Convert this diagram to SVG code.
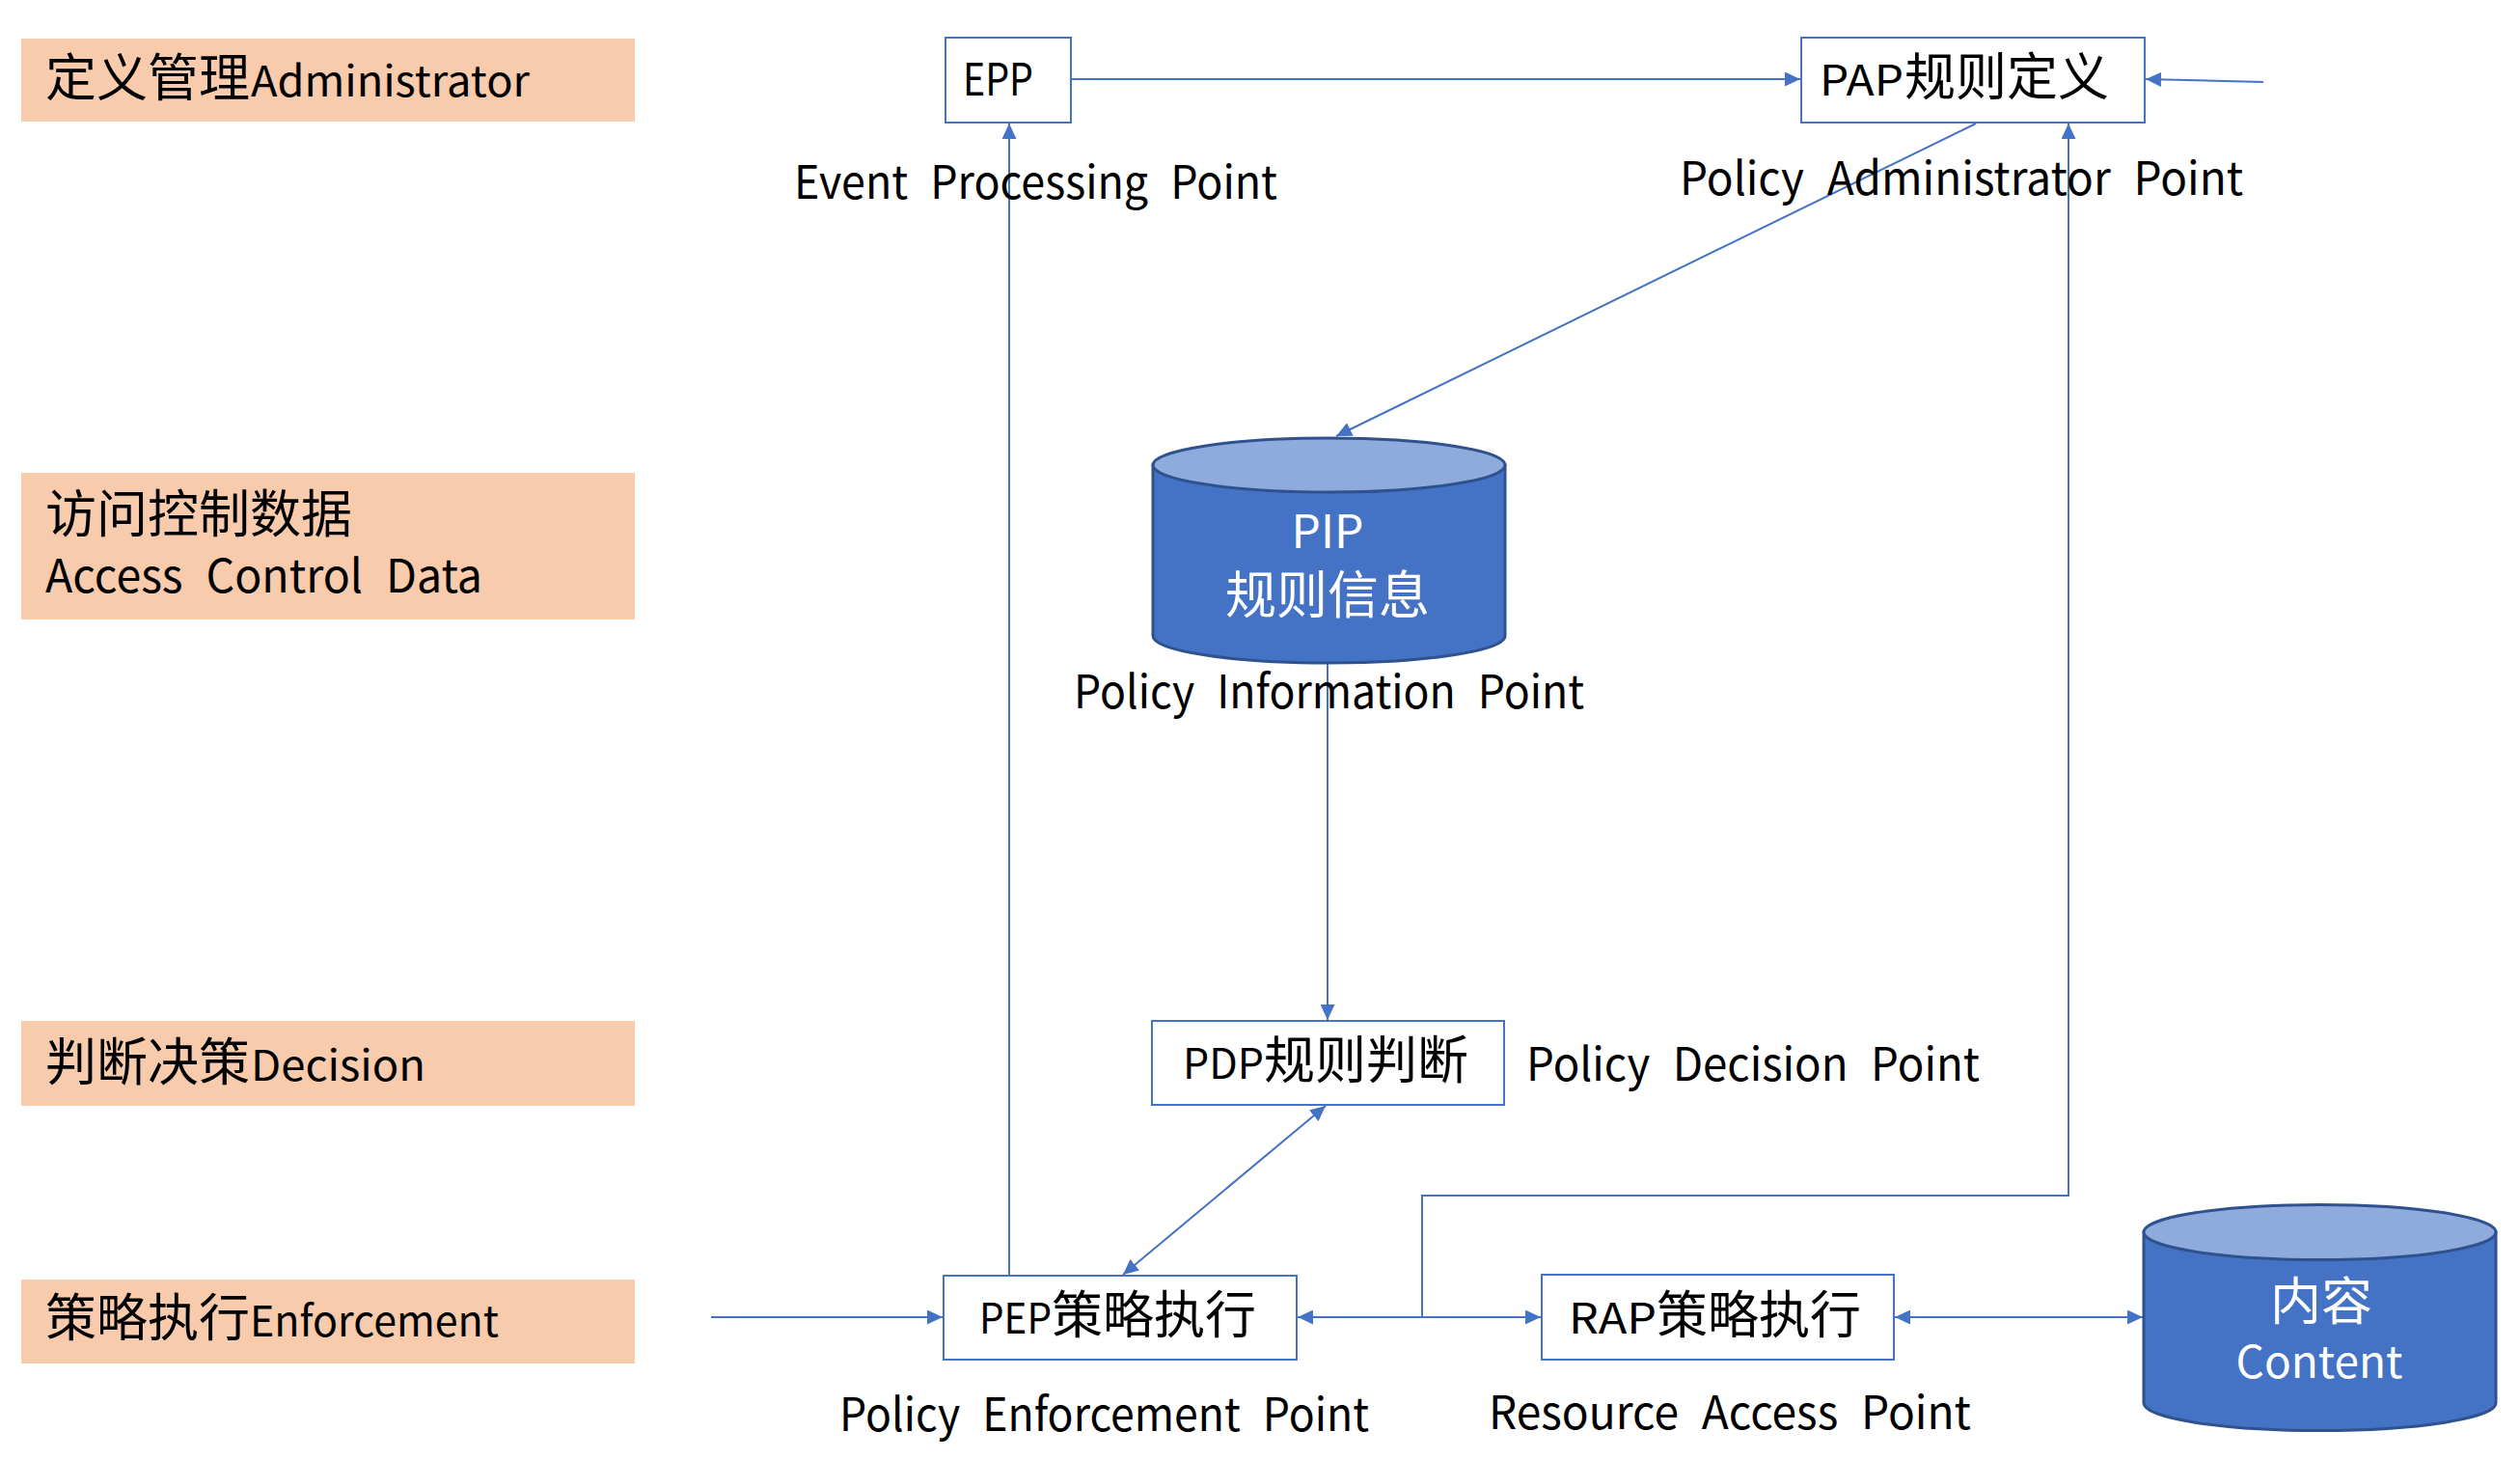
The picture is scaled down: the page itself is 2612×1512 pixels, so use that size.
<svg xmlns="http://www.w3.org/2000/svg" width="2612" height="1512" viewBox="0 0 2612 1512">
<defs>
<style>
.lane{fill:#F8CBAD;}
.box{fill:#FFFFFF;stroke:#4472C4;stroke-width:2;}
.cylb{fill:#4472C4;stroke:#2F528F;stroke-width:3;}
.cylt{fill:#8FAADC;stroke:#2F528F;stroke-width:3;}
.t{font-family:"Noto Sans CJK SC","Noto Sans",sans-serif;fill:#000000;}
.w{font-family:"Noto Sans CJK SC","Noto Sans",sans-serif;fill:#FFFFFF;}
.lat{font-size:44px;}
.cjk{font-size:53px;}
.sub{font-size:48px;word-spacing:14px;}
.ln{fill:none;stroke:#4472C4;stroke-width:2;}
</style>
<marker id="ah" markerUnits="userSpaceOnUse" markerWidth="16" markerHeight="15" refX="16" refY="7.5" orient="auto-start-reverse" viewBox="0 0 16 15">
<path d="M0,0 L16,7.5 L0,15 z" fill="#4472C4"/>
</marker>
</defs>
<rect width="2612" height="1512" fill="#FFFFFF"/>

<g id="lane-admin">
<rect class="lane" x="22" y="40" width="636" height="86"/>
<text class="t" y="100"><tspan class="cjk" x="47">定义管理</tspan><tspan class="lat" x="260" textLength="289" lengthAdjust="spacingAndGlyphs">Administrator</tspan></text>
</g>
<g id="lane-data">
<rect class="lane" x="22" y="490" width="636" height="152"/>
<text class="t"><tspan class="cjk" x="47" y="552">访问控制数据</tspan><tspan class="sub" x="47" y="614" textLength="453" lengthAdjust="spacingAndGlyphs">Access Control Data</tspan></text>
</g>
<g id="lane-decision">
<rect class="lane" x="22" y="1058" width="636" height="88"/>
<text class="t" y="1120"><tspan class="cjk" x="47">判断决策</tspan><tspan class="lat" x="260" textLength="181" lengthAdjust="spacingAndGlyphs">Decision</tspan></text>
</g>
<g id="lane-enforcement">
<rect class="lane" x="22" y="1326" width="636" height="87"/>
<text class="t" y="1385"><tspan class="cjk" x="47">策略执行</tspan><tspan class="lat" x="259" textLength="258" lengthAdjust="spacingAndGlyphs">Enforcement</tspan></text>
</g>

<g id="connectors">
<line class="ln" x1="1110" y1="82" x2="1866" y2="82" marker-end="url(#ah)"/>
<line class="ln" x1="2346" y1="85" x2="2224" y2="82" marker-end="url(#ah)"/>
<line class="ln" x1="2048" y1="128" x2="1385" y2="452" marker-end="url(#ah)"/>
<line class="ln" x1="1376" y1="688" x2="1376" y2="1057" marker-end="url(#ah)"/>
<line class="ln" x1="1164" y1="1321" x2="1374" y2="1146" marker-start="url(#ah)" marker-end="url(#ah)"/>
<line class="ln" x1="1046" y1="1321" x2="1046" y2="128" marker-end="url(#ah)"/>
<line class="ln" x1="737" y1="1365" x2="977" y2="1365" marker-end="url(#ah)"/>
<line class="ln" x1="1345" y1="1365" x2="1597" y2="1365" marker-start="url(#ah)" marker-end="url(#ah)"/>
<polyline class="ln" points="1474,1365 1474,1239 2144,1239 2144,128" marker-end="url(#ah)"/>
<line class="ln" x1="1964" y1="1365" x2="2221" y2="1365" marker-start="url(#ah)" marker-end="url(#ah)"/>
</g>

<g id="epp">
<rect class="box" x="980" y="39" width="130" height="88"/>
<text class="t" x="998" y="99" font-size="46" textLength="73" lengthAdjust="spacingAndGlyphs">EPP</text>
<text class="t sub" x="823" y="206" textLength="501" lengthAdjust="spacingAndGlyphs">Event Processing Point</text>
</g>

<g id="pap">
<rect class="box" x="1867" y="39" width="356" height="88"/>
<text class="t" y="99"><tspan class="lat" x="1886" textLength="87" lengthAdjust="spacingAndGlyphs">PAP</tspan><tspan class="cjk" x="1974">规则定义</tspan></text>
<text class="t sub" x="1741" y="202" textLength="584" lengthAdjust="spacingAndGlyphs">Policy Administrator Point</text>
</g>

<g id="pip">
<path class="cylb" d="M1195,482 L1195,659 A182.5,28 0 0 0 1560,659 L1560,482 Z"/>
<ellipse class="cylt" cx="1377.5" cy="482" rx="182.5" ry="28"/>
<text class="w" text-anchor="middle"><tspan x="1376" y="568" font-size="48">PIP</tspan><tspan x="1376" y="636" font-size="53">规则信息</tspan></text>
<text class="t sub" x="1113" y="734" textLength="529" lengthAdjust="spacingAndGlyphs">Policy Information Point</text>
</g>

<g id="pdp">
<rect class="box" x="1194" y="1058" width="365" height="87"/>
<text class="t" y="1118"><tspan class="lat" x="1226" textLength="84" lengthAdjust="spacingAndGlyphs">PDP</tspan><tspan class="cjk" x="1310">规则判断</tspan></text>
<text class="t sub" x="1582" y="1120" textLength="470" lengthAdjust="spacingAndGlyphs">Policy Decision Point</text>
</g>

<g id="pep">
<rect class="box" x="978" y="1322" width="366" height="87"/>
<text class="t" y="1382"><tspan class="lat" x="1015" textLength="75" lengthAdjust="spacingAndGlyphs">PEP</tspan><tspan class="cjk" x="1090">策略执行</tspan></text>
<text class="t sub" x="870" y="1483" textLength="549" lengthAdjust="spacingAndGlyphs">Policy Enforcement Point</text>
</g>

<g id="rap">
<rect class="box" x="1598" y="1321" width="365" height="88"/>
<text class="t" y="1382"><tspan class="lat" x="1626" textLength="91" lengthAdjust="spacingAndGlyphs">RAP</tspan><tspan class="cjk" x="1717">策略执行</tspan></text>
<text class="t sub" x="1543" y="1481" textLength="500" lengthAdjust="spacingAndGlyphs">Resource Access Point</text>
</g>

<g id="content">
<path class="cylb" d="M2222,1277 L2222,1454 A182.5,28.5 0 0 0 2587,1454 L2587,1277 Z"/>
<ellipse class="cylt" cx="2404.5" cy="1277" rx="182.5" ry="28.5"/>
<text class="w" text-anchor="middle"><tspan x="2406" y="1368" font-size="53">内容</tspan><tspan x="2404" y="1428" font-size="46">Content</tspan></text>
</g>
</svg>
